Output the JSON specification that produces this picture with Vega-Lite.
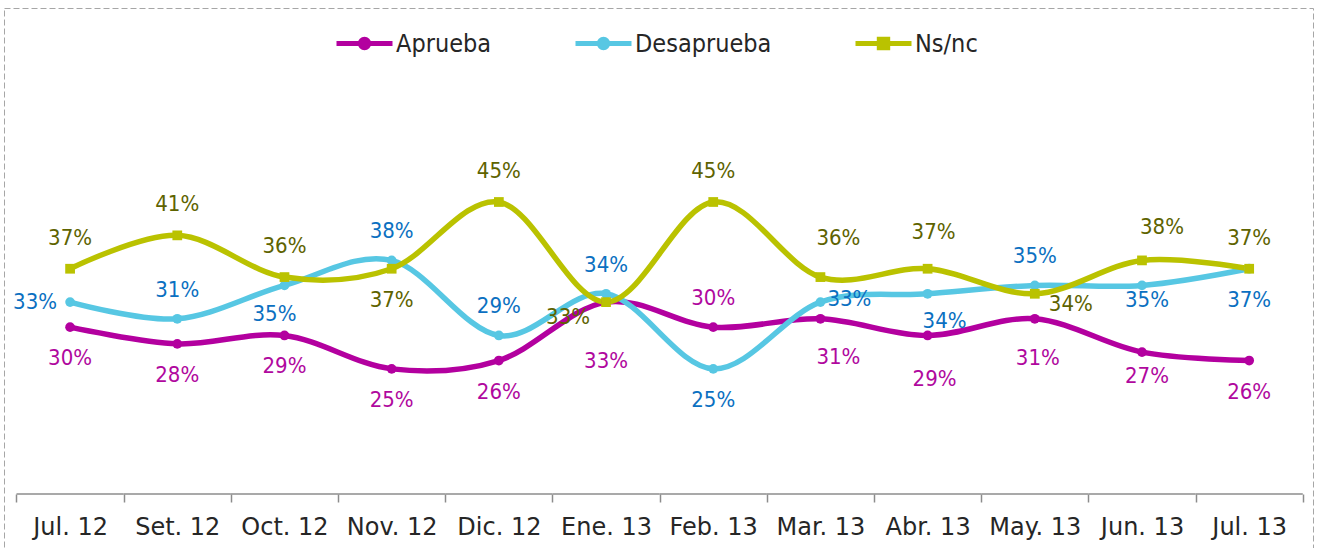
{
  "$schema": "https://vega.github.io/schema/vega-lite/v6.json",
  "width": 1309,
  "height": 540,
  "autosize": {"type": "none"},
  "padding": {"left": 4, "top": 8, "right": 5, "bottom": 0},
  "background": "white",
  "config": {
    "view": {"stroke": "#A6A6A6", "strokeDash": [6, 3], "strokeWidth": 1},
    "text": {"font": "DejaVu Sans Condensed", "fontSize": 22, "align": "center", "baseline": "middle"}
  },
  "data": {"values": [
    {"month": "Jul. 12", "series": "Aprueba", "value": 0.30},
    {"month": "Set. 12", "series": "Aprueba", "value": 0.28},
    {"month": "Oct. 12", "series": "Aprueba", "value": 0.29},
    {"month": "Nov. 12", "series": "Aprueba", "value": 0.25},
    {"month": "Dic. 12", "series": "Aprueba", "value": 0.26},
    {"month": "Ene. 13", "series": "Aprueba", "value": 0.33},
    {"month": "Feb. 13", "series": "Aprueba", "value": 0.30},
    {"month": "Mar. 13", "series": "Aprueba", "value": 0.31},
    {"month": "Abr. 13", "series": "Aprueba", "value": 0.29},
    {"month": "May. 13", "series": "Aprueba", "value": 0.31},
    {"month": "Jun. 13", "series": "Aprueba", "value": 0.27},
    {"month": "Jul. 13", "series": "Aprueba", "value": 0.26},
    {"month": "Jul. 12", "series": "Desaprueba", "value": 0.33},
    {"month": "Set. 12", "series": "Desaprueba", "value": 0.31},
    {"month": "Oct. 12", "series": "Desaprueba", "value": 0.35},
    {"month": "Nov. 12", "series": "Desaprueba", "value": 0.38},
    {"month": "Dic. 12", "series": "Desaprueba", "value": 0.29},
    {"month": "Ene. 13", "series": "Desaprueba", "value": 0.34},
    {"month": "Feb. 13", "series": "Desaprueba", "value": 0.25},
    {"month": "Mar. 13", "series": "Desaprueba", "value": 0.33},
    {"month": "Abr. 13", "series": "Desaprueba", "value": 0.34},
    {"month": "May. 13", "series": "Desaprueba", "value": 0.35},
    {"month": "Jun. 13", "series": "Desaprueba", "value": 0.35},
    {"month": "Jul. 13", "series": "Desaprueba", "value": 0.37},
    {"month": "Jul. 12", "series": "Ns/nc", "value": 0.37},
    {"month": "Set. 12", "series": "Ns/nc", "value": 0.41},
    {"month": "Oct. 12", "series": "Ns/nc", "value": 0.36},
    {"month": "Nov. 12", "series": "Ns/nc", "value": 0.37},
    {"month": "Dic. 12", "series": "Ns/nc", "value": 0.45},
    {"month": "Ene. 13", "series": "Ns/nc", "value": 0.33},
    {"month": "Feb. 13", "series": "Ns/nc", "value": 0.45},
    {"month": "Mar. 13", "series": "Ns/nc", "value": 0.36},
    {"month": "Abr. 13", "series": "Ns/nc", "value": 0.37},
    {"month": "May. 13", "series": "Ns/nc", "value": 0.34},
    {"month": "Jun. 13", "series": "Ns/nc", "value": 0.38},
    {"month": "Jul. 13", "series": "Ns/nc", "value": 0.37}
  ]},
  "encoding": {
    "x": {
      "field": "month", "type": "ordinal", "bandPosition": 0.5,
      "sort": ["Jul. 12", "Set. 12", "Oct. 12", "Nov. 12", "Dic. 12", "Ene. 13", "Feb. 13", "Mar. 13", "Abr. 13", "May. 13", "Jun. 13", "Jul. 13"],
      "scale": {"type": "band", "paddingInner": 0, "paddingOuter": 0.106, "align": 0.55},
      "axis": {
        "title": null, "orient": "bottom", "domain": false, "tickBand": "extent", "tickSize": 8,
        "tickColor": "#8C8C8C", "tickWidth": 1.5, "labelAngle": 0, "labelFont": "DejaVu Sans",
        "labelFontSize": 24, "labelColor": "#262626", "labelPadding": 25, "labelBaseline": "middle",
        "offset": -54, "labelOverlap": false, "grid": false
      }
    },
    "y": {
      "field": "value", "type": "quantitative",
      "scale": {"domain": [0.0353, 0.6825], "zero": false, "nice": false},
      "axis": null
    }
  },
  "layer": [
    {
      "transform": [{"filter": {"field": "series", "equal": "Aprueba"}}],
      "mark": {"type": "bar", "color": "#8C8C8C"},
      "encoding": {
        "y": {"datum": 0.1009, "type": "quantitative"},
        "y2": {"datum": 0.0991}
      }
    },
    {
      "mark": {"type": "line", "interpolate": "cardinal", "strokeWidth": 5.5},
      "encoding": {
        "color": {
          "field": "series", "type": "nominal",
          "scale": {"domain": ["Aprueba", "Desaprueba", "Ns/nc"], "range": ["#B3009F", "#57C7E3", "#BAC200"]},
          "legend": {
            "title": null, "orient": "none", "direction": "horizontal", "columns": 3, "gridAlign": "none",
            "legendX": 330, "legendY": 5, "padding": 0, "symbolSize": 3136, "symbolStrokeWidth": 5,
            "symbolType": "M-1,0H1M0.15,0A0.15,0.15,0,1,1,-0.15,0A0.15,0.15,0,1,1,0.15,0Z",
            "labelFont": "DejaVu Sans Condensed", "labelFontSize": 25, "labelColor": "#262626",
            "labelOffset": 1, "columnPadding": 73,
            "encode": {"symbols": {"update": {
              "shape": {"signal": "datum.value === 'Ns/nc' ? 'M-1,0H1M-0.15,-0.15H0.15V0.15H-0.15Z' : 'M-1,0H1M0.15,0A0.15,0.15,0,1,1,-0.15,0A0.15,0.15,0,1,1,0.15,0Z'"},
              "fill": {"signal": "scale('color', datum.value)"},
              "stroke": {"signal": "scale('color', datum.value)"},
              "opacity": {"value": 1}
            }}}
          }
        }
      }
    },
    {
      "transform": [{"filter": {"field": "series", "equal": "Aprueba"}}],
      "mark": {"type": "point", "filled": true, "opacity": 1, "size": 95, "shape": "circle", "color": "#B3009F"}
    },
    {
      "transform": [{"filter": {"field": "series", "equal": "Desaprueba"}}],
      "mark": {"type": "point", "filled": true, "opacity": 1, "size": 95, "shape": "circle", "color": "#57C7E3"}
    },
    {
      "transform": [{"filter": {"field": "series", "equal": "Ns/nc"}}],
      "mark": {"type": "point", "filled": true, "opacity": 1, "size": 95, "shape": "square", "color": "#BAC200"}
    },
    {"transform": [{"filter": {"and": [{"field": "series", "equal": "Aprueba"}, {"field": "month", "oneOf": ["Jul. 12", "Set. 12", "Oct. 12", "Nov. 12", "Dic. 12", "Jul. 13"]}]}}],
     "mark": {"type": "text", "dy": 31, "color": "#B0089E"}, "encoding": {"text": {"field": "value", "format": ".0%"}}},
    {"transform": [{"filter": {"and": [{"field": "series", "equal": "Aprueba"}, {"field": "month", "equal": "Ene. 13"}]}}],
     "mark": {"type": "text", "dy": 59, "color": "#B0089E"}, "encoding": {"text": {"field": "value", "format": ".0%"}}},
    {"transform": [{"filter": {"and": [{"field": "series", "equal": "Aprueba"}, {"field": "month", "equal": "Feb. 13"}]}}],
     "mark": {"type": "text", "dy": -29, "color": "#B0089E"}, "encoding": {"text": {"field": "value", "format": ".0%"}}},
    {"transform": [{"filter": {"and": [{"field": "series", "equal": "Aprueba"}, {"field": "month", "equal": "Mar. 13"}]}}],
     "mark": {"type": "text", "dx": 18, "dy": 38, "color": "#B0089E"}, "encoding": {"text": {"field": "value", "format": ".0%"}}},
    {"transform": [{"filter": {"and": [{"field": "series", "equal": "Aprueba"}, {"field": "month", "equal": "Abr. 13"}]}}],
     "mark": {"type": "text", "dx": 7, "dy": 44, "color": "#B0089E"}, "encoding": {"text": {"field": "value", "format": ".0%"}}},
    {"transform": [{"filter": {"and": [{"field": "series", "equal": "Aprueba"}, {"field": "month", "equal": "May. 13"}]}}],
     "mark": {"type": "text", "dx": 3, "dy": 39, "color": "#B0089E"}, "encoding": {"text": {"field": "value", "format": ".0%"}}},
    {"transform": [{"filter": {"and": [{"field": "series", "equal": "Aprueba"}, {"field": "month", "equal": "Jun. 13"}]}}],
     "mark": {"type": "text", "dx": 5, "dy": 24, "color": "#B0089E"}, "encoding": {"text": {"field": "value", "format": ".0%"}}},
    {"transform": [{"filter": {"and": [{"field": "series", "equal": "Desaprueba"}, {"field": "month", "oneOf": ["Set. 12", "Nov. 12", "Dic. 12", "Ene. 13", "May. 13"]}]}}],
     "mark": {"type": "text", "dy": -29, "color": "#0B70C1"}, "encoding": {"text": {"field": "value", "format": ".0%"}}},
    {"transform": [{"filter": {"and": [{"field": "series", "equal": "Desaprueba"}, {"field": "month", "oneOf": ["Feb. 13", "Jul. 13"]}]}}],
     "mark": {"type": "text", "dy": 31, "color": "#0B70C1"}, "encoding": {"text": {"field": "value", "format": ".0%"}}},
    {"transform": [{"filter": {"and": [{"field": "series", "equal": "Desaprueba"}, {"field": "month", "equal": "Jul. 12"}]}}],
     "mark": {"type": "text", "dx": -35, "dy": 0, "color": "#0B70C1"}, "encoding": {"text": {"field": "value", "format": ".0%"}}},
    {"transform": [{"filter": {"and": [{"field": "series", "equal": "Desaprueba"}, {"field": "month", "equal": "Oct. 12"}]}}],
     "mark": {"type": "text", "dx": -10, "dy": 29, "color": "#0B70C1"}, "encoding": {"text": {"field": "value", "format": ".0%"}}},
    {"transform": [{"filter": {"and": [{"field": "series", "equal": "Desaprueba"}, {"field": "month", "equal": "Mar. 13"}]}}],
     "mark": {"type": "text", "dx": 29, "dy": -3, "color": "#0B70C1"}, "encoding": {"text": {"field": "value", "format": ".0%"}}},
    {"transform": [{"filter": {"and": [{"field": "series", "equal": "Desaprueba"}, {"field": "month", "equal": "Abr. 13"}]}}],
     "mark": {"type": "text", "dx": 17, "dy": 27, "color": "#0B70C1"}, "encoding": {"text": {"field": "value", "format": ".0%"}}},
    {"transform": [{"filter": {"and": [{"field": "series", "equal": "Desaprueba"}, {"field": "month", "equal": "Jun. 13"}]}}],
     "mark": {"type": "text", "dx": 5, "dy": 15, "color": "#0B70C1"}, "encoding": {"text": {"field": "value", "format": ".0%"}}},
    {"transform": [{"filter": {"and": [{"field": "series", "equal": "Ns/nc"}, {"field": "month", "oneOf": ["Jul. 12", "Set. 12", "Oct. 12", "Dic. 12", "Feb. 13", "Jul. 13"]}]}}],
     "mark": {"type": "text", "dy": -31, "color": "#5E6300"}, "encoding": {"text": {"field": "value", "format": ".0%"}}},
    {"transform": [{"filter": {"and": [{"field": "series", "equal": "Ns/nc"}, {"field": "month", "equal": "Nov. 12"}]}}],
     "mark": {"type": "text", "dy": 31, "color": "#5E6300"}, "encoding": {"text": {"field": "value", "format": ".0%"}}},
    {"transform": [{"filter": {"and": [{"field": "series", "equal": "Ns/nc"}, {"field": "month", "equal": "Ene. 13"}]}}],
     "mark": {"type": "text", "dx": -38, "dy": 15, "color": "#5E6300"}, "encoding": {"text": {"field": "value", "format": ".0%"}}},
    {"transform": [{"filter": {"and": [{"field": "series", "equal": "Ns/nc"}, {"field": "month", "equal": "Mar. 13"}]}}],
     "mark": {"type": "text", "dx": 18, "dy": -39, "color": "#5E6300"}, "encoding": {"text": {"field": "value", "format": ".0%"}}},
    {"transform": [{"filter": {"and": [{"field": "series", "equal": "Ns/nc"}, {"field": "month", "equal": "Abr. 13"}]}}],
     "mark": {"type": "text", "dx": 6, "dy": -37, "color": "#5E6300"}, "encoding": {"text": {"field": "value", "format": ".0%"}}},
    {"transform": [{"filter": {"and": [{"field": "series", "equal": "Ns/nc"}, {"field": "month", "equal": "May. 13"}]}}],
     "mark": {"type": "text", "dx": 36, "dy": 10, "color": "#5E6300"}, "encoding": {"text": {"field": "value", "format": ".0%"}}},
    {"transform": [{"filter": {"and": [{"field": "series", "equal": "Ns/nc"}, {"field": "month", "equal": "Jun. 13"}]}}],
     "mark": {"type": "text", "dx": 20, "dy": -33, "color": "#5E6300"}, "encoding": {"text": {"field": "value", "format": ".0%"}}}
  ]
}
